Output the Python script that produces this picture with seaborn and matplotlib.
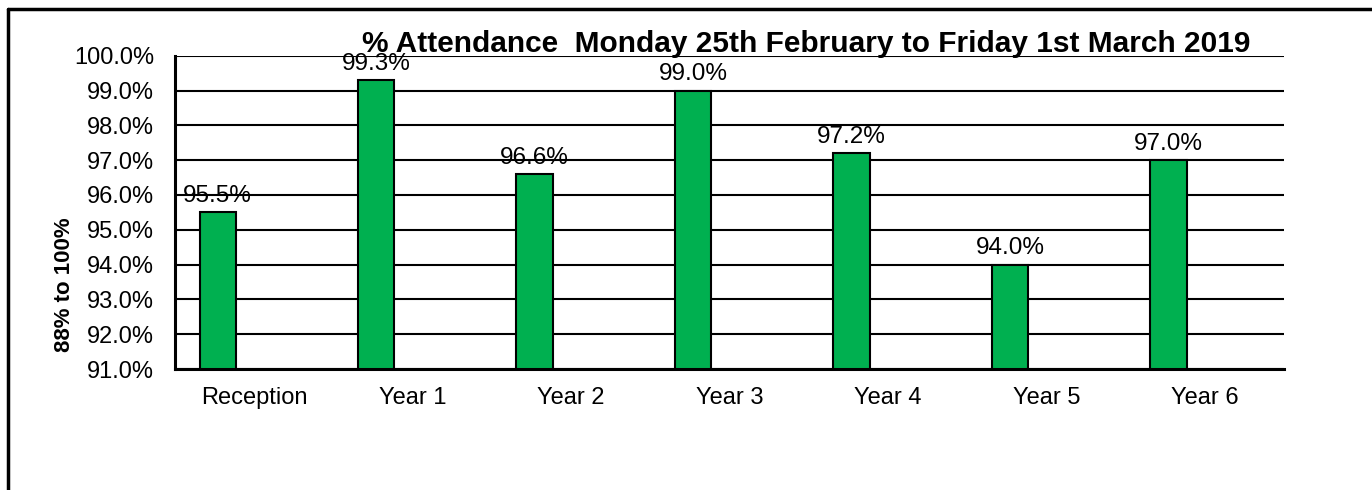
import pandas as pd
import matplotlib.pyplot as plt
import seaborn as sns
from matplotlib.lines import Line2D
from matplotlib.ticker import FixedLocator

# Data
years = ['Reception', 'Year 1', 'Year 2', 'Year 3', 'Year 4', 'Year 5', 'Year 6']
attendance = [95.5, 99.3, 96.6, 99.0, 97.2, 94.0, 97.0]
series_order = ['Attendance', 'Series 2', 'Series 3']  # original had 3 series slots, only first used
y_ticks = [91, 92, 93, 94, 95, 96, 97, 98, 99, 100]

df = pd.DataFrame({'Year': years, 'Attendance': attendance, 'Series': 'Attendance'})

sns.set_style('white')
plt.rcParams['font.family'] = ['Liberation Sans', 'DejaVu Sans']
plt.rcParams['text.color'] = 'black'
plt.rcParams['xtick.color'] = 'black'
plt.rcParams['ytick.color'] = 'black'
plt.rcParams['axes.labelcolor'] = 'black'

fig = plt.figure(figsize=(13.72, 4.9), dpi=100)
ax = fig.add_axes([175 / 1372, 1 - 369 / 490, (1284 - 175) / 1372, (369 - 55.7) / 490])

sns.barplot(data=df, x='Year', y='Attendance', hue='Series', hue_order=series_order,
            palette=['#00B050'] * 3, width=0.69, dodge=True, legend=False,
            edgecolor='black', linewidth=1.5, saturation=1, ax=ax, zorder=3)

ax.set_ylim(91, 100)
ax.set_xlim(-0.5, len(years) - 0.5)
ax.set_yticks(y_ticks)
ax.set_yticklabels([f'{v:.1f}%' for v in y_ticks], fontsize=17)
ax.set_xticks(range(len(years)))
ax.set_xticklabels(years, fontsize=17)
ax.xaxis.set_minor_locator(FixedLocator([i - 0.5 for i in range(len(years) + 1)]))
ax.tick_params(axis='x', which='major', length=0, pad=13)
ax.tick_params(axis='x', which='minor', length=7, width=1.5, direction='out', color='black')
ax.tick_params(axis='y', which='major', length=8, width=1.5, direction='out', pad=7, color='black')
ax.grid(axis='y', color='black', linewidth=1.5, zorder=0)
ax.set_axisbelow(True)
ax.set_xlabel('')
ax.set_ylabel('')

for side in ['top', 'right']:
    ax.spines[side].set_visible(False)
for side in ['left', 'bottom']:
    ax.spines[side].set_color('black')
    ax.spines[side].set_linewidth(2.2)
    ax.spines[side].set_zorder(4)

ax.bar_label(ax.containers[0], fmt='%.1f%%', fontsize=17.5, padding=4)

fig.text(806 / 1372, 1 - 52 / 490, '% Attendance  Monday 25th February to Friday 1st March 2019',
         ha='center', va='baseline', fontsize=21.5, fontweight='bold')
fig.text(65 / 1372, 1 - 285 / 490, '88% to 100%', rotation=90, ha='center', va='center',
         fontsize=16, fontweight='bold')

# outer chart frame (runs off the right and bottom of the image)
fig.add_artist(Line2D([8 / 1372, 1.0], [1 - 9 / 490, 1 - 9 / 490], color='black', linewidth=2.5))
fig.add_artist(Line2D([8 / 1372, 8 / 1372], [1 - 9 / 490, 0.0], color='black', linewidth=2.5))

fig.savefig('out.png', dpi=100)
